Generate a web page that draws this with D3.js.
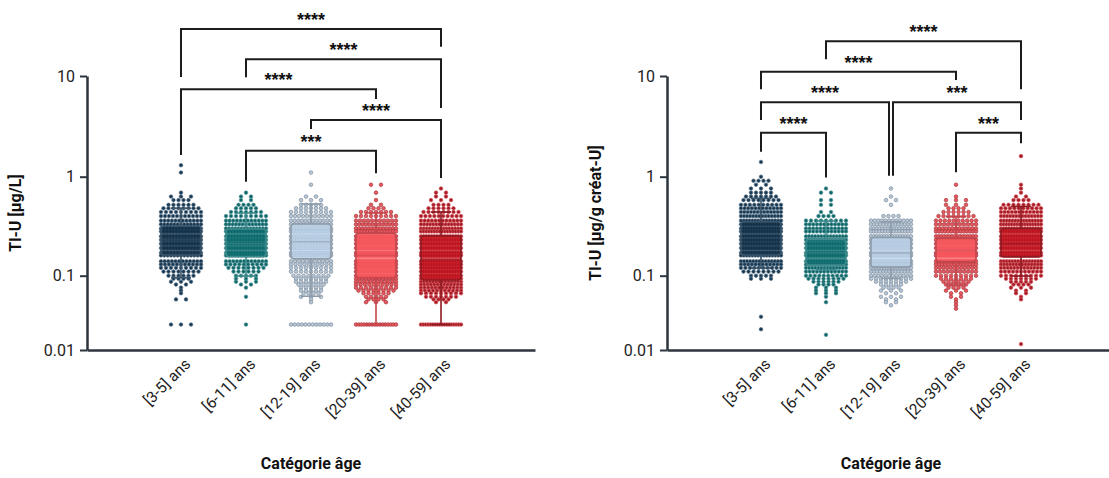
<!DOCTYPE html>
<html>
<head>
<meta charset="utf-8">
<script src="https://cdn.jsdelivr.net/npm/d3@7"></script>
<style>
  html, body { margin: 0; padding: 0; background: #ffffff; }
  svg { display: block; font-family: Roboto, "Noto Sans", sans-serif; }
</style>
</head>
<body>
<svg id="chart" width="1109" height="478"></svg>
<script>
// categories and axis ticks
const ageGroups = ['[3-5] ans', '[6-11] ans', '[12-19] ans', '[20-39] ans', '[40-59] ans'];
const yTickValues = [0.01, 0.1, 1, 10];
const yTickLabels = ['0.01', '0.1', '1', '10'];

// ---- Tl-U [µg/L] : box stats per age group
const volQ1 = [0.162, 0.156, 0.148, 0.094, 0.0875];
const volMedian = [0.23, 0.21, 0.22, 0.16, 0.145];
const volQ3 = [0.318, 0.296, 0.333, 0.268, 0.253];
const volLow = [0.094, 0.099, 0.053, 0.022, 0.022];
const volHigh = [0.48, 0.43, 0.53, 0.43, 0.44];

// individual values as [value, number of subjects]
const vol_3_5 = [[1.3,1],[1.1,1],[0.69,1],[0.63,3],[0.58,4],[0.52,6],[0.48,8],[0.44,9],[0.40,11],[0.36,12],[0.33,13],[0.30,14],[0.28,14],[0.25,14],[0.23,14],[0.21,14],[0.19,14],[0.17,13],[0.16,13],[0.14,12],[0.13,11],[0.12,9],[0.11,8],[0.10,6],[0.091,4],[0.083,3],[0.076,2],[0.069,1],[0.063,1],[0.058,1],[0.048,2],[0.022,3]];
const vol_6_11 = [[0.69,1],[0.63,2],[0.58,2],[0.52,4],[0.48,5],[0.44,7],[0.40,9],[0.36,12],[0.33,13],[0.30,14],[0.28,15],[0.25,15],[0.23,15],[0.21,15],[0.19,15],[0.17,15],[0.16,14],[0.14,12],[0.13,10],[0.12,8],[0.11,6],[0.10,5],[0.091,3],[0.083,3],[0.076,2],[0.069,1],[0.052,1],[0.022,1]];
const vol_12_19 = [[1.1,1],[0.83,1],[0.63,2],[0.58,3],[0.52,5],[0.48,7],[0.44,9],[0.40,11],[0.36,12],[0.33,13],[0.30,14],[0.28,14],[0.25,14],[0.23,14],[0.21,14],[0.19,14],[0.17,14],[0.16,13],[0.14,11],[0.13,10],[0.12,9],[0.11,9],[0.10,8],[0.091,7],[0.083,7],[0.076,6],[0.069,5],[0.063,5],[0.058,4],[0.052,3],[0.048,1],[0.044,1],[0.022,12]];
const vol_20_39 = [[0.83,2],[0.69,1],[0.58,1],[0.52,2],[0.48,4],[0.44,7],[0.40,9],[0.36,11],[0.33,13],[0.30,14],[0.28,15],[0.25,15],[0.23,15],[0.21,15],[0.19,15],[0.17,15],[0.16,15],[0.14,15],[0.13,15],[0.12,14],[0.11,14],[0.10,14],[0.091,13],[0.083,12],[0.076,10],[0.069,9],[0.063,8],[0.058,6],[0.052,5],[0.048,4],[0.044,3],[0.022,16]];
const vol_40_59 = [[0.76,1],[0.69,2],[0.63,2],[0.58,3],[0.52,4],[0.48,6],[0.44,8],[0.40,10],[0.36,12],[0.33,14],[0.30,15],[0.28,16],[0.25,16],[0.23,16],[0.21,16],[0.19,16],[0.17,16],[0.16,16],[0.14,16],[0.13,16],[0.12,16],[0.11,16],[0.10,16],[0.091,16],[0.083,14],[0.076,13],[0.069,12],[0.063,11],[0.058,9],[0.052,7],[0.048,4],[0.044,2],[0.022,18]];

// significance brackets: [from, to, bar level, leg end (from), leg end (to), label]
const volBrackets = [
  [0, 4, 29.3, 9.8, 19.5, '****'],
  [1, 4, 14.7, 9.7, 4.8, '****'],
  [0, 3, 7.4, 1.64, 5.9, '****'],
  [2, 4, 3.66, 2.98, 0.97, '****'],
  [1, 3, 1.81, 0.89, 1.08, '***']
];

// ---- Tl-U [µg/g créat-U]
const creQ1 = [0.162, 0.128, 0.122, 0.139, 0.155];
const creMedian = [0.24, 0.17, 0.17, 0.18, 0.21];
const creQ3 = [0.351, 0.233, 0.244, 0.238, 0.30];
const creLow = [0.119, 0.115, 0.092, 0.075, 0.099];
const creHigh = [0.605, 0.357, 0.35, 0.394, 0.50];

const cre_3_5 = [[1.4,1],[1.0,1],[0.91,4],[0.83,2],[0.76,3],[0.69,5],[0.63,7],[0.58,8],[0.52,10],[0.48,12],[0.44,13],[0.40,14],[0.36,15],[0.33,16],[0.30,16],[0.28,16],[0.25,16],[0.23,16],[0.21,16],[0.19,16],[0.17,16],[0.16,15],[0.14,14],[0.13,12],[0.12,10],[0.11,8],[0.10,5],[0.091,3],[0.028,1],[0.019,1]];
const cre_6_11 = [[0.76,1],[0.69,2],[0.58,2],[0.52,2],[0.44,2],[0.40,4],[0.36,9],[0.33,12],[0.30,12],[0.28,12],[0.25,14],[0.23,16],[0.21,16],[0.19,16],[0.17,16],[0.16,16],[0.14,16],[0.13,16],[0.12,14],[0.11,12],[0.10,10],[0.091,8],[0.083,6],[0.076,4],[0.069,3],[0.063,3],[0.058,3],[0.052,1],[0.044,1],[0.016,1]];
const cre_12_19 = [[0.76,1],[0.63,1],[0.58,2],[0.52,1],[0.40,4],[0.36,12],[0.33,14],[0.30,15],[0.28,15],[0.25,16],[0.23,16],[0.21,16],[0.19,16],[0.17,16],[0.16,16],[0.14,16],[0.13,16],[0.12,16],[0.11,14],[0.10,12],[0.091,9],[0.083,7],[0.076,5],[0.069,4],[0.063,3],[0.058,2],[0.052,3],[0.048,2],[0.044,2],[0.040,1]];
const cre_20_39 = [[0.83,1],[0.63,1],[0.58,3],[0.52,3],[0.48,4],[0.44,6],[0.40,8],[0.36,10],[0.33,11],[0.30,13],[0.28,14],[0.25,16],[0.23,16],[0.21,16],[0.19,16],[0.17,16],[0.16,16],[0.14,16],[0.13,14],[0.12,12],[0.11,11],[0.10,9],[0.091,7],[0.083,6],[0.076,5],[0.069,4],[0.063,3],[0.058,2],[0.052,2],[0.048,1],[0.044,1],[0.040,1],[0.036,1]];
const cre_40_59 = [[1.6,1],[0.83,1],[0.76,1],[0.69,1],[0.63,2],[0.58,4],[0.52,8],[0.48,10],[0.44,12],[0.40,14],[0.36,15],[0.33,16],[0.30,16],[0.28,16],[0.25,16],[0.23,16],[0.21,16],[0.19,16],[0.17,16],[0.16,16],[0.14,15],[0.13,14],[0.12,13],[0.11,11],[0.10,9],[0.091,7],[0.083,5],[0.076,4],[0.069,3],[0.063,2],[0.058,2],[0.052,1],[0.048,1],[0.012,1]];

const creBrackets = [
  [1, 4, 22.1, 14.7, 7.4, '****'],
  [0, 3, 11.0, 7.4, 9.1, '****'],
  [0, 2, 5.5, 3.66, 1.02, '****'],
  [2, 4, 5.5, 1.02, 3.66, '***'],
  [0, 1, 2.73, 1.77, 0.98, '****'],
  [3, 4, 2.73, 1.11, 2.15, '***']
];

// colours per age group
const boxFill = ['#0f2e47', '#0b6a6d', '#bcd3ea', '#ff5a5f', '#c3121d'];
const boxStroke = ['#3b566b', '#3f8a8d', '#8d9baa', '#c4464c', '#8e1b22'];
const dotFill = ['#173852', '#0f6669', '#b9c8d7', '#e65a60', '#a51a24'];
const dotStroke = ['#5b7488', '#55989b', '#7d8d9e', '#a9343b', '#d4585e'];
const axisColour = '#2c343d';

const svg = d3.select('#chart');
const AXIS_LEN = 448;
const BOX_W = 40;

// log axis, as in the source figure the lowest decade is shorter
const yExp = d3.scaleLinear()
  .domain([-2, -1, 0, 1])
  .range([350, 275.7, 176.7, 76]);
const y = v => yExp(Math.log10(v));

const panels = [
  {
    x0: 87, title: 'Tl-U [µg/L]',
    q1: volQ1, med: volMedian, q3: volQ3, lo: volLow, hi: volHigh,
    dots: [vol_3_5, vol_6_11, vol_12_19, vol_20_39, vol_40_59],
    brackets: volBrackets
  },
  {
    x0: 667, title: 'Tl-U [µg/g créat-U]',
    q1: creQ1, med: creMedian, q3: creQ3, lo: creLow, hi: creHigh,
    dots: [cre_3_5, cre_6_11, cre_12_19, cre_20_39, cre_40_59],
    brackets: creBrackets
  }
];

// horizontal spread of points sharing a value (column scatter)
function rowOffsets(n) {
  if (n === 1) return [0];
  const sp = Math.min(n <= 3 ? 10 : 5, BOX_W / (n - 1));
  return d3.range(n).map(i => (i - (n - 1) / 2) * sp);
}

panels.forEach(drawPanel);

function drawPanel(p) {
  const g = svg.append('g');
  const x = d3.scalePoint()
    .domain(ageGroups)
    .range([p.x0, p.x0 + AXIS_LEN])
    .padding(1.446);

  ageGroups.forEach((cat, i) => {
    const cx = x(cat);
    const grp = g.append('g').attr('class', 'group');

    // points
    const pts = [];
    p.dots[i].forEach(([v, n]) => {
      rowOffsets(n).forEach(dx => pts.push({ v, dx }));
    });
    grp.selectAll('circle')
      .data(pts)
      .enter()
      .append('circle')
      .attr('cx', d => cx + d.dx)
      .attr('cy', d => y(d.v))
      .attr('r', 1.8)
      .attr('fill', dotFill[i])
      .attr('stroke', dotStroke[i])
      .attr('stroke-width', 0.7);

    // box laid over the points, slightly see-through
    grp.append('rect')
      .attr('x', cx - BOX_W / 2)
      .attr('y', y(p.q3[i]))
      .attr('width', BOX_W)
      .attr('height', y(p.q1[i]) - y(p.q3[i]))
      .attr('rx', 3)
      .attr('fill', boxFill[i])
      .attr('fill-opacity', 0.78)
      .attr('stroke', boxStroke[i])
      .attr('stroke-width', 1.6);

    // whiskers
    const wk = grp.append('g')
      .attr('stroke', boxStroke[i])
      .attr('stroke-width', 1.6)
      .attr('fill', 'none');
    wk.append('line')
      .attr('x1', cx).attr('x2', cx)
      .attr('y1', y(p.q3[i])).attr('y2', y(p.hi[i]));
    wk.append('line')
      .attr('x1', cx).attr('x2', cx)
      .attr('y1', y(p.q1[i])).attr('y2', y(p.lo[i]));
    [p.hi[i], p.lo[i]].forEach(v => {
      wk.append('line')
        .attr('x1', cx - 10).attr('x2', cx + 10)
        .attr('y1', y(v)).attr('y2', y(v));
    });
    wk.append('line')
      .attr('x1', cx - BOX_W / 2).attr('x2', cx + BOX_W / 2)
      .attr('y1', y(p.med[i])).attr('y2', y(p.med[i]))
      .attr('stroke-opacity', 0.5);
  });

  // y axis
  const yAxis = d3.axisLeft(yExp)
    .tickValues(yTickValues.map(Math.log10))
    .tickFormat((d, i) => yTickLabels[i])
    .tickSize(7)
    .tickSizeOuter(0)
    .tickPadding(5);
  const ya = g.append('g')
    .attr('transform', `translate(${p.x0},0)`)
    .call(yAxis);
  ya.select('.domain').attr('stroke', axisColour).attr('stroke-width', 2.5);
  ya.selectAll('.tick line').attr('stroke', axisColour).attr('stroke-width', 2);
  ya.selectAll('.tick text')
    .attr('font-family', 'Roboto, sans-serif')
    .attr('font-size', 16)
    .attr('fill', '#222');

  // x axis
  const xAxis = d3.axisBottom(x).tickSize(0).tickSizeOuter(0).tickPadding(0);
  const xa = g.append('g')
    .attr('transform', `translate(0,${yExp.range()[0]})`)
    .call(xAxis);
  xa.select('.domain').attr('stroke', axisColour).attr('stroke-width', 2.5);
  xa.selectAll('.tick text')
    .attr('font-family', 'Roboto, sans-serif')
    .attr('font-size', 15.5)
    .attr('fill', '#222')
    .attr('text-anchor', 'end')
    .attr('x', 0)
    .attr('y', 0)
    .attr('dy', 0)
    .attr('transform', 'translate(10,15) rotate(-45)');

  // axis titles
  g.append('text')
    .attr('transform', `translate(${p.x0 - 66},${(yExp.range()[0] + yExp.range()[3]) / 2}) rotate(-90)`)
    .attr('text-anchor', 'middle')
    .attr('font-weight', 700)
    .attr('font-size', 16)
    .attr('fill', '#111')
    .text(p.title);

  g.append('text')
    .attr('x', p.x0 + AXIS_LEN / 2)
    .attr('y', 469)
    .attr('text-anchor', 'middle')
    .attr('font-weight', 700)
    .attr('font-size', 16)
    .attr('fill', '#111')
    .text('Catégorie âge');

  // significance brackets
  p.brackets.forEach((b, k) => {
    const [from, to, level, endFrom, endTo, label] = b;
    let x1 = x(ageGroups[from]);
    let x2 = x(ageGroups[to]);
    // separate brackets that share a group at the same height
    p.brackets.forEach((o, j) => {
      if (j === k || o[2] !== level) return;
      if (o[0] === to) x2 -= 2;
      if (o[1] === from) x1 += 2;
    });
    g.append('path')
      .attr('d', `M${x1},${y(endFrom)}V${y(level)}H${x2}V${y(endTo)}`)
      .attr('fill', 'none')
      .attr('stroke', '#1c1c1c')
      .attr('stroke-width', 2);
    g.append('text')
      .attr('x', (x1 + x2) / 2)
      .attr('y', y(level) - 3)
      .attr('text-anchor', 'middle')
      .attr('font-family', '"Liberation Sans", Arial, sans-serif')
      .attr('font-weight', 700)
      .attr('font-size', 18)
      .attr('fill', '#111')
      .text(label);
  });
}
</script>
</body>
</html>
